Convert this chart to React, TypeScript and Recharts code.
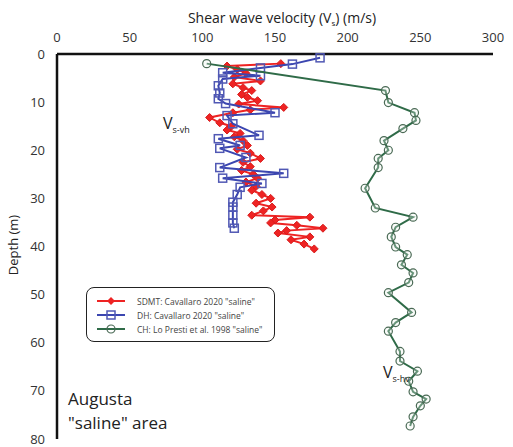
import React from "react";
import { ScatterChart, Scatter, XAxis, YAxis } from "recharts";

// SDMT (red), depth m / Vs m/s
const sdmtDepth = [2.0, 2.5, 3.2, 4, 4.8, 5.6, 6.2, 7, 7.6, 8.4, 9, 9.7, 10.4, 11.1, 11.6, 12.2, 13.2, 14.3, 15, 15.8, 16.5, 17.2, 18, 19, 19.8, 20.6, 21.7, 22.5, 23.4, 24.2, 25, 25.8, 26.6, 27.5, 28.3, 29.2, 30, 31, 31.8, 32.6, 33.5, 33.9, 34.5, 35.1, 35.6, 36.2, 36.7, 37.2, 38, 38.6, 39.5, 40.5];
const sdmtVs = [154, 117, 124, 130, 122, 140, 121, 128, 134, 127, 131, 138, 125, 156, 133, 121, 105, 112, 120, 117, 126, 122, 128, 131, 124, 133, 140, 128, 133, 127, 135, 138, 130, 137, 134, 141, 147, 137, 148, 142, 134, 174, 150, 147, 165, 183, 158, 152, 174, 161, 170, 177];

// DH (blue)
const dhDepth = [0.8, 2.1, 2.9, 3.9, 4.5, 5.2, 6.6, 8.1, 9.3, 10.3, 12.2, 12.8, 14.5, 16.9, 17.6, 19.0, 19.6, 21.5, 23.6, 24.8, 25.8, 26.9, 27.7, 29.2, 30.8, 31.8, 33.5, 35.1, 36.2];
const dhVs = [181, 162, 140, 114, 140, 114, 111, 112, 111, 116, 150, 117, 121, 139, 111, 126, 112, 130, 112, 156, 114, 141, 126, 124, 121, 121, 121, 121, 122];

// CH (green)
const chDepth = [2.0, 7.6, 10.1, 12.2, 13.8, 15.5, 18.0, 20.0, 21.7, 23.6, 27.9, 32.0, 33.9, 36.0, 38.0, 40.1, 41.7, 43.8, 45.5, 47.5, 49.6, 53.7, 55.8, 57.6, 61.8, 63.8, 65.9, 68.0, 70.2, 71.7, 73.1, 75.4, 77.3];
const chVs = [103, 226, 228, 246, 247, 238, 225, 228, 221, 221, 212, 219, 245, 233, 230, 233, 241, 237, 245, 242, 228, 244, 233, 228, 236, 236, 248, 242, 245, 254, 250, 245, 243];

const velocityTicks = [0, 25, 50, 75, 100, 125, 150, 175, 200, 225, 250, 275, 300];
const depthTicks = [0, 5, 10, 15, 20, 25, 30, 35, 40, 45, 50, 55, 60, 65, 70, 75, 80];

const seriesNames = ['SDMT: Cavallaro 2020 "saline"', 'DH: Cavallaro 2020 "saline"', 'CH: Lo Presti et al. 1998 "saline"'];

const toRows = (d: number[], v: number[]) => d.map((depth, i) => ({ d: depth, v: v[i] }));
const sdmt = toRows(sdmtDepth, sdmtVs);
const dh = toRows(dhDepth, dhVs);
const ch = toRows(chDepth, chVs);

const RED = "#ee2323";
const BLUE = "#3b46b0";
const GREEN = "#2f6b48";
const FONT = "'Open Sans', 'Noto Sans', sans-serif";

const Diamond = (p: any) => (
  <path d={`M${p.cx},${p.cy - 4}L${p.cx + 4},${p.cy}L${p.cx},${p.cy + 4}L${p.cx - 4},${p.cy}Z`} fill={RED} stroke="#d81c1c" strokeWidth={1} />
);
const Square = (p: any) => (
  <rect x={p.cx - 4} y={p.cy - 4} width={8} height={8} fill="none" stroke="#5058b4" strokeWidth={1.5} />
);
const Ring = (p: any) => (
  <circle cx={p.cx} cy={p.cy} r={4} fill="#eef4ef" fillOpacity={0.3} stroke="#4a6a55" strokeWidth={1.2} />
);

const TopTick = (p: any) => {
  const v = p.payload.value;
  if (v % 50 !== 0) return <g />;
  return <text x={p.x} y={p.y} textAnchor="middle" fontSize={13} fill="#333" fontFamily={FONT}>{v}</text>;
};

const LeftTick = (p: any) => {
  const v = p.payload.value;
  if (v % 10 !== 0) return <g />;
  return <text x={p.x} y={p.y} dy="0.35em" textAnchor="end" fontSize={13} fill="#333" fontFamily={FONT}>{v}</text>;
};

const NoLabel = () => <g />;

const LegendBox = () => {
  const colors = [RED, BLUE, GREEN];
  return (
    <div style={{ position: "absolute", left: 86, top: 287, width: 189, height: 55, border: "1.5px solid #222", borderRadius: 8, background: "#fff", boxSizing: "border-box", padding: "6px 0 0 8px", fontFamily: FONT }}>
      {seriesNames.map((name, i) => (
        <div key={name} style={{ display: "flex", alignItems: "center", height: 14 }}>
          <svg width={32} height={12}>
            <line x1={2} x2={30} y1={6} y2={6} stroke={colors[i]} strokeWidth={2} />
            {i === 0 && <path d="M16,2L20,6L16,10L12,6Z" fill={RED} />}
            {i === 1 && <rect x={12} y={2} width={8} height={8} fill="none" stroke="#5058b4" strokeWidth={1.5} />}
            {i === 2 && <circle cx={16} cy={6} r={4} fill="none" stroke="#4a6a55" strokeWidth={1.2} />}
          </svg>
          <span style={{ fontSize: 8.5, color: "#444", marginLeft: 10, whiteSpace: "nowrap" }}>{name}</span>
        </div>
      ))}
    </div>
  );
};

export default function App() {
  return (
    <div style={{ position: "absolute", left: 0, top: 0, width: 513, height: 447, background: "#fff" }}>
      <ScatterChart width={513} height={447} margin={{ top: 24, right: 20, bottom: 8, left: 0 }}>
        <XAxis
          type="number"
          dataKey="v"
          orientation="top"
          domain={[0, 300]}
          ticks={velocityTicks}
          interval={0}
          height={30}
          tickSize={0}
          tickMargin={12}
          tick={<TopTick />}
          tickLine={false}
          axisLine={{ stroke: "#111", strokeWidth: 2.5 }}
        />
        <YAxis
          type="number"
          dataKey="d"
          reversed
          domain={[0, 80]}
          ticks={depthTicks}
          interval={0}
          width={57}
          tickSize={0}
          tickMargin={12}
          tick={<LeftTick />}
          tickLine={false}
          axisLine={{ stroke: "#111", strokeWidth: 2.5 }}
        />
        {/* mirrored copies that only draw the inward tick marks */}
        <XAxis
          xAxisId="inner"
          type="number"
          dataKey="v"
          orientation="top"
          mirror
          domain={[0, 300]}
          ticks={velocityTicks}
          interval={0}
          tickSize={6}
          tick={<NoLabel />}
          tickLine={{ stroke: "#111", strokeWidth: 2 }}
          axisLine={false}
        />
        <YAxis
          yAxisId="inner"
          type="number"
          dataKey="d"
          reversed
          mirror
          domain={[0, 80]}
          ticks={depthTicks}
          interval={0}
          tickSize={6}
          tick={<NoLabel />}
          tickLine={{ stroke: "#111", strokeWidth: 2 }}
          axisLine={false}
        />
        <Scatter name={seriesNames[0]} data={sdmt} line={{ stroke: RED, strokeWidth: 2 }} lineType="joint" shape={<Diamond />} fill={RED} isAnimationActive={false} />
        <Scatter name={seriesNames[1]} data={dh} line={{ stroke: BLUE, strokeWidth: 2 }} lineType="joint" shape={<Square />} fill={BLUE} isAnimationActive={false} />
        <Scatter name={seriesNames[2]} data={ch} line={{ stroke: GREEN, strokeWidth: 2 }} lineType="joint" shape={<Ring />} fill={GREEN} isAnimationActive={false} />
      </ScatterChart>
      <LegendBox />
      <svg width={513} height={447} style={{ position: "absolute", left: 0, top: 0, pointerEvents: "none" }} fontFamily={FONT}>
        <text x={282} y={23} textAnchor="middle" fontSize={14} fill="#222">
          Shear wave velocity (V<tspan fontSize={8} dy={3}>s</tspan><tspan dy={-3}>) (m/s)</tspan>
        </text>
        <text x={18} y={245} textAnchor="middle" fontSize={13} fill="#222" transform="rotate(-90 18 245)">Depth (m)</text>
        <text x={163} y={129} fontSize={16} fill="#222">V<tspan fontSize={9} dy={4}>s-vh</tspan></text>
        <text x={383} y={378} fontSize={16} fill="#222">V<tspan fontSize={9} dy={4}>s-hv</tspan></text>
        <text x={68} y={405} fontSize={17} fill="#222">Augusta</text>
        <text x={68} y={429} fontSize={17} fill="#222">"saline" area</text>
      </svg>
    </div>
  );
}
